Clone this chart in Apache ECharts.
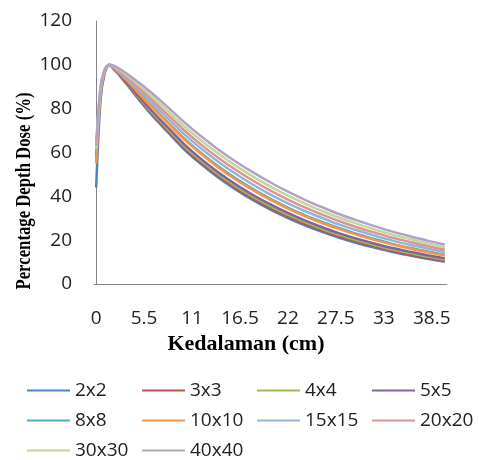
<!DOCTYPE html>
<html>
<head>
<meta charset="utf-8">
<script src="https://cdn.jsdelivr.net/npm/echarts@6/dist/echarts.min.js"></script>
<style>
html,body{margin:0;padding:0;background:#fff;}
#chart{width:479px;height:460px;}
</style>
</head>
<body>
<div id="chart"></div>
<script>
// Depth (cm) sample points
var depths = [0, 0.5, 1, 1.5, 2, 2.5, 3, 4, 5, 6, 7, 8, 10, 12, 14, 16, 18, 20, 22, 24, 26, 28, 30, 32, 34, 36, 38, 40];
var xTickLabels = [0, 5.5, 11, 16.5, 22, 27.5, 33, 38.5];
var fieldNames = ['2x2', '3x3', '4x4', '5x5', '8x8', '10x10', '15x15', '20x20', '30x30', '40x40'];
var colors = ['#4F81BD', '#C0504D', '#9BBB59', '#8064A2', '#4BACC6', '#F79646', '#95B3D7', '#D99694', '#C3D69B', '#B3A2C7'];

var pdd2x2   = [44, 84, 96.6, 100, 98.2, 96.0, 93.6, 88.6, 83.6, 78.9, 74.4, 70.2, 61.8, 54.8, 48.6, 43.1, 38.2, 33.9, 30.1, 26.7, 23.7, 21.0, 18.6, 16.5, 14.6, 13.0, 11.5, 10.2];
var pdd3x3   = [56, 86, 97.0, 100, 98.3, 96.2, 93.8, 89.0, 84.1, 79.5, 75.0, 70.9, 62.5, 55.6, 49.4, 43.9, 39.0, 34.6, 30.8, 27.4, 24.4, 21.6, 19.2, 17.1, 15.2, 13.5, 12.0, 10.7];
var pdd4x4   = [57, 86.5, 97.1, 100, 98.4, 96.3, 94.1, 89.3, 84.6, 80.0, 75.7, 71.6, 63.3, 56.3, 50.1, 44.6, 39.7, 35.4, 31.5, 28.1, 25.0, 22.3, 19.8, 17.7, 15.7, 14.1, 12.5, 11.1];
var pdd5x5   = [58, 87, 97.3, 100, 98.5, 96.5, 94.3, 89.7, 85.1, 80.7, 76.4, 72.4, 64.2, 57.2, 51.0, 45.5, 40.6, 36.3, 32.4, 28.9, 25.8, 23.0, 20.6, 18.4, 16.4, 14.7, 13.1, 11.7];
var pdd8x8   = [60, 88, 97.6, 100, 98.8, 97.0, 95.1, 91.0, 86.8, 82.7, 78.6, 74.7, 66.8, 59.9, 53.7, 48.2, 43.3, 38.9, 34.9, 31.3, 28.2, 25.3, 22.7, 20.4, 18.3, 16.5, 14.8, 13.3];
var pdd10x10 = [55, 87, 97.5, 100, 98.7, 96.9, 95.0, 90.8, 86.5, 82.3, 78.2, 74.3, 66.3, 59.4, 53.2, 47.7, 42.8, 38.4, 34.4, 30.9, 27.7, 24.9, 22.3, 20.0, 18.0, 16.2, 14.5, 13.0];
var pdd15x15 = [61, 88.5, 97.8, 100, 99.0, 97.5, 95.7, 92.0, 88.1, 84.2, 80.3, 76.5, 68.7, 61.9, 55.8, 50.3, 45.3, 40.8, 36.8, 33.2, 30.0, 27.0, 24.4, 22.0, 19.8, 17.9, 16.2, 14.6];
var pdd20x20 = [62, 89, 98.0, 100, 99.2, 97.8, 96.3, 92.8, 89.2, 85.6, 81.8, 78.1, 70.5, 63.7, 57.6, 52.1, 47.1, 42.6, 38.5, 34.8, 31.5, 28.5, 25.8, 23.4, 21.1, 19.2, 17.3, 15.7];
var pdd30x30 = [62, 89.5, 98.1, 100, 99.4, 98.2, 96.8, 93.7, 90.4, 87.0, 83.4, 79.8, 72.3, 65.6, 59.5, 54.0, 49.0, 44.4, 40.3, 36.6, 33.2, 30.1, 27.4, 24.8, 22.5, 20.5, 18.6, 16.8];
var pdd40x40 = [63, 90, 98.2, 100, 99.6, 98.6, 97.4, 94.6, 91.6, 88.4, 85.0, 81.5, 74.2, 67.5, 61.4, 55.9, 50.9, 46.3, 42.1, 38.3, 34.9, 31.7, 28.9, 26.3, 23.9, 21.8, 19.8, 18.0];

var allValues = [pdd2x2, pdd3x3, pdd4x4, pdd5x5, pdd8x8, pdd10x10, pdd15x15, pdd20x20, pdd30x30, pdd40x40];

var series = fieldNames.map(function (name, i) {
  return {
    name: name,
    type: 'line',
    data: depths.map(function (d, j) { return [d, allValues[i][j]]; }),
    showSymbol: false,
    symbol: 'none',
    smooth: 0.3,
    lineStyle: { width: 2.5, color: colors[i] },
    itemStyle: { color: colors[i] }
  };
});

var chart = echarts.init(document.getElementById('chart'), null, { renderer: 'canvas' });
chart.setOption({
  animation: false,
  color: colors,
  grid: { left: 94, right: 32, top: 21, bottom: 176, containLabel: false },
  xAxis: {
    type: 'value',
    min: -0.25,
    max: 40.25,
    axisLine: { show: true, lineStyle: { color: '#868686', width: 1 } },
    axisTick: { show: false },
    splitLine: { show: false },
    axisLabel: {
      customValues: xTickLabels,
      margin: 25,
      color: '#222',
      fontFamily: '"Open Sans", sans-serif',
      fontSize: 19,
      formatter: function (v) { return String(v); }
    }
  },
  yAxis: {
    type: 'value',
    min: 0,
    max: 120,
    interval: 20,
    axisLine: { show: true, lineStyle: { color: '#868686', width: 1 } },
    axisTick: { show: false },
    splitLine: { show: false },
    axisLabel: {
      margin: 22,
      color: '#222',
      fontFamily: '"Open Sans", sans-serif',
      fontSize: 19
    }
  },
  legend: {
    show: true,
    left: 27,
    top: 380,
    width: 460,
    padding: 0,
    icon: 'rect',
    itemWidth: 43,
    itemHeight: 2,
    itemGap: 9,
    textStyle: {
      fontFamily: '"Open Sans", sans-serif',
      fontSize: 19,
      color: '#222',
      width: 58,
      lineHeight: 21
    },
    data: fieldNames
  },
  graphic: [
    {
      type: 'text',
      x: 246,
      y: 344,
      style: {
        text: 'Kedalaman (cm)',
        x: 0, y: 0,
        textAlign: 'center',
        textVerticalAlign: 'middle',
        font: 'bold 22px "Liberation Serif", serif',
        fill: '#000'
      }
    },
    {
      type: 'text',
      x: 24,
      y: 191,
      rotation: Math.PI / 2,
      scaleX: 0.76,
      style: {
        text: 'Percentage Depth Dose (%)',
        x: 0, y: 0,
        textAlign: 'center',
        textVerticalAlign: 'middle',
        font: 'bold 22px "Liberation Serif", serif',
        fill: '#000'
      }
    }
  ],
  series: series
});
</script>
</body>
</html>
